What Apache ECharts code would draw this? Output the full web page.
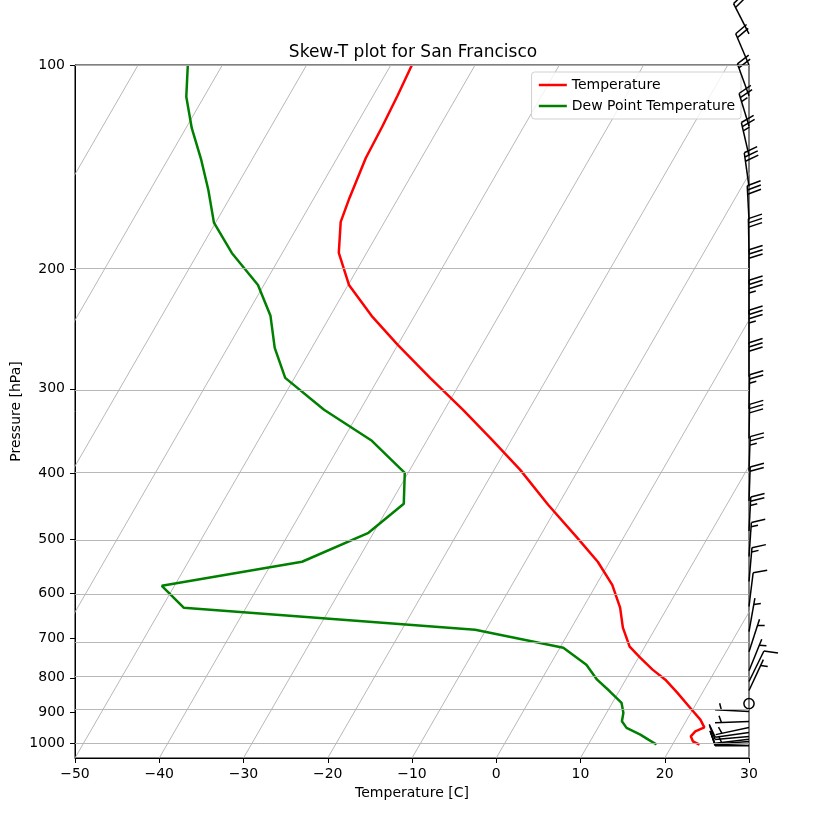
<!DOCTYPE html>
<html>
<head>
<meta charset="utf-8">
<script src="https://cdn.jsdelivr.net/npm/echarts@6/dist/echarts.min.js"></script>
<style>
    html, body { margin: 0; padding: 0; background: #fff; }
    #main { width: 826px; height: 823px; }
</style>
</head>
<body>
<div id="main"></div>
<script>
    // temperature profile (hPa, degC)
    var tempPres = [100, 111.1, 123.4, 137.1, 157, 170.3, 189.2, 210.9, 234.2, 258.5, 289.1, 322.2, 356.7, 395, 444.6, 497.2,
        539.5, 583.4, 630.5, 674.8, 719.6, 746.9, 778, 804.9, 841, 891.3, 921.9, 946.3, 959.2, 975.4, 992.2, 1003];
    var tempVals = [-57.5, -57.1, -56.8, -56.6, -55.8, -55.2, -53.3, -49.9, -45.1, -40.0, -33.9, -27.8, -22.3, -16.9, -11.2, -5.5,
        -1.4, 1.9, 4.4, 6.1, 8.2, 10.2, 12.5, 14.7, 17.0, 19.9, 21.6, 22.6, 21.8, 21.6, 22.2, 23.2];

    // dew point profile (hPa, degC)
    var dewPres = [100, 111.4, 123.9, 138, 152.8, 170.7, 189.2, 210.9, 234.2, 261.1, 289.1, 322.2, 357.9, 399, 443.1, 489,
        539.5, 585.3, 630.5, 679.3, 722.1, 765, 804.9, 837.3, 871, 901, 927, 948, 970, 986.5, 1003];
    var dewVals = [-84.1, -82.1, -79.3, -76.0, -73.1, -70.2, -66.0, -60.7, -57.1, -54.4, -51.1, -44.3, -36.5, -30.4, -28.4, -30.6,
        -36.5, -51.5, -47.4, -11.3, 0.4, 4.3, 6.6, 8.9, 11.1, 12.0, 12.4, 13.4, 15.5, 16.8, 18.1];

    // wind barbs: pressure, speed (kt), direction (deg, wind from)
    var barbPres = [90, 100, 111, 123, 136, 151, 169, 189, 210, 233, 258, 288, 321, 355, 396, 439, 486,
        530, 577, 628, 684, 732, 781, 810, 835, 873, 897, 928, 947, 963, 976, 985, 993, 1000, 1007];
    var barbSpeed = [20, 20, 20, 25, 25, 30, 30, 30, 30, 35, 35, 30, 25, 30, 25, 20, 25,
        15, 15, 10, 5, 5, 5, 10, 5, 0, 5, 5, 5, 10, 10, 5, 10, 10, 10];
    var barbDir = [333, 337, 340, 343, 347, 352, 357, 359, 0, 0, 0, 0, 1, 1, 2, 2, 3,
        4, 5, 7, 10, 18, 22, 26, 25, 0, 273, 268, 258, 262, 265, 263, 266, 268, 270];

    // axis ticks
    var presTicks = [100, 200, 300, 400, 500, 600, 700, 800, 900, 1000];
    var isotherms = [-90, -80, -70, -60, -50, -40, -30, -20, -10, 0, 10, 20, 30];

    var P_TOP = 100, P_BOT = 1050, T_MIN = -50, T_MAX = 30;
    var GRID = {left: 75, top: 65, width: 674, height: 693};

    // skew: isotherms at 30 deg from vertical in screen space
    var SKEW = Math.tan(30 * Math.PI / 180) * GRID.height / Math.log10(P_BOT / P_TOP) / (GRID.width / (T_MAX - T_MIN));
    function skewX(t, p) {
        return t + SKEW * Math.log10(P_BOT / p);
    }
    function profile(pres, vals) {
        return pres.map(function (p, i) { return [skewX(vals[i], p), Math.log10(p)]; });
    }

    var isoSeries = isotherms.map(function (t) {
        return {
            type: 'line', silent: true, symbol: 'none', z: 1,
            lineStyle: {color: '#b0b0b0', width: 0.9},
            data: [[skewX(t, P_BOT), Math.log10(P_BOT)], [skewX(t, P_TOP), Math.log10(P_TOP)]]
        };
    });

    // matplotlib-like barb, length 34px
    var BL = 34, SP = BL * 0.125, BH = BL * 0.4, BW = BL * 0.25;
    function renderBarb(params, api) {
        var base = api.coord([api.value(0), api.value(1)]);
        var spd = Math.round(api.value(2) / 5) * 5;
        var th = api.value(3) * Math.PI / 180;
        var st = {stroke: '#000', lineWidth: 1.5, fill: null};
        if (spd === 0) {
            return {type: 'circle', shape: {cx: base[0], cy: base[1], r: BL * 0.15}, style: st};
        }
        var d = [Math.sin(th), -Math.cos(th)];
        var n = [-d[1], d[0]];
        function pt(along, side) {
            return [base[0] + d[0] * along + n[0] * side, base[1] + d[1] * along + n[1] * side];
        }
        var kids = [{type: 'polyline', shape: {points: [pt(0, 0), pt(BL, 0)]}, style: st}];
        var flags = Math.floor(spd / 50), full = Math.floor((spd % 50) / 10), half = (spd % 10) >= 5;
        var off = BL;
        for (var i = 0; i < flags; i++) {
            kids.push({type: 'polygon', shape: {points: [pt(off, 0), pt(off - BW / 2, BH), pt(off - BW, 0)]},
                style: {fill: '#000', stroke: '#000', lineWidth: 1}});
            off -= BW + SP;
        }
        for (var j = 0; j < full; j++) {
            kids.push({type: 'polyline', shape: {points: [pt(off, 0), pt(off + BW / 2, BH)]}, style: st});
            off -= SP;
        }
        if (half) {
            if (off === BL) off -= 1.5 * SP;
            kids.push({type: 'polyline', shape: {points: [pt(off, 0), pt(off + BW / 4, BH / 2)]}, style: st});
        }
        return {type: 'group', children: kids};
    }

    var myChart = echarts.init(document.getElementById('main'));

    var font = 'DejaVu Sans';
    option = {
        animation: false,
        backgroundColor: '#fff',
        textStyle: {fontFamily: font},
        title: {
            text: 'Skew-T plot for San Francisco',
            left: 'center', top: 44, padding: 0,
            textStyle: {fontFamily: font, fontSize: 17, fontWeight: 'normal', color: '#000'}
        },
        legend: {
            data: ['Temperature', 'Dew Point Temperature'],
            orient: 'vertical',
            right: 85, top: 72,
            itemWidth: 28, itemHeight: 14, itemGap: 7,
            padding: [6, 6, 6, 6],
            borderColor: '#d0d0d0', borderWidth: 1, borderRadius: 3,
            backgroundColor: 'rgba(255,255,255,0.8)',
            itemStyle: {opacity: 0},
            lineStyle: {width: 2.5},
            textStyle: {fontFamily: font, fontSize: 14, color: '#000'}
        },
        grid: {
            left: GRID.left, top: GRID.top, width: GRID.width, height: GRID.height,
            containLabel: false, outerBoundsMode: 'none',
            show: true, borderColor: '#000', borderWidth: 1, backgroundColor: 'transparent'
        },
        xAxis: {
            type: 'value', min: T_MIN, max: T_MAX, interval: 10,
            name: 'Temperature [C]', nameLocation: 'middle', nameGap: 28, nameMoveOverlap: false,
            nameTextStyle: {fontFamily: font, fontSize: 14, color: '#000'},
            axisLine: {show: true, onZero: false, lineStyle: {color: '#000', width: 1}},
            axisTick: {show: true, length: 5, lineStyle: {color: '#000'}},
            axisLabel: {
                fontFamily: font, fontSize: 14, color: '#000', margin: 9,
                formatter: function (v) { return v < 0 ? '\u2212' + (-v) : String(v); }
            },
            splitLine: {show: false}
        },
        yAxis: {
            type: 'value', inverse: true,
            min: Math.log10(P_TOP), max: Math.log10(P_BOT),
            name: 'Pressure [hPa]', nameLocation: 'middle', nameGap: 52, nameMoveOverlap: false,
            nameTextStyle: {fontFamily: font, fontSize: 14, color: '#000'},
            axisLine: {show: true, onZero: false, lineStyle: {color: '#000', width: 1}},
            axisTick: {show: true, length: 5, lineStyle: {color: '#000'},
                customValues: presTicks.map(function (p) { return Math.log10(p); })},
            axisLabel: {
                fontFamily: font, fontSize: 14, color: '#000', margin: 10,
                customValues: presTicks.map(function (p) { return Math.log10(p); }),
                formatter: function (v) { return String(Math.round(Math.pow(10, v))); }
            },
            splitLine: {show: false}
        },
        series: isoSeries.concat([
            {
                // pressure grid lines
                type: 'line', silent: true, symbol: 'none', data: [], z: 1,
                markLine: {
                    silent: true, symbol: 'none', label: {show: false}, animation: false,
                    lineStyle: {color: '#b0b0b0', width: 0.9, type: 'solid'},
                    data: presTicks.map(function (p) { return {yAxis: Math.log10(p)}; })
                }
            },
            {
                name: 'Temperature', type: 'line', symbol: 'none', z: 3,
                lineStyle: {color: '#ff0000', width: 2.5}, itemStyle: {color: '#ff0000'},
                data: profile(tempPres, tempVals)
            },
            {
                name: 'Dew Point Temperature', type: 'line', symbol: 'none', z: 3,
                lineStyle: {color: '#008000', width: 2.5}, itemStyle: {color: '#008000'},
                data: profile(dewPres, dewVals)
            },
            {
                type: 'custom', silent: true, z: 4, clip: false,
                renderItem: renderBarb,
                data: barbPres.map(function (p, i) { return [T_MAX, Math.log10(p), barbSpeed[i], barbDir[i]]; })
            }
        ])
    };

    myChart.setOption(option);
</script>
</body>
</html>
